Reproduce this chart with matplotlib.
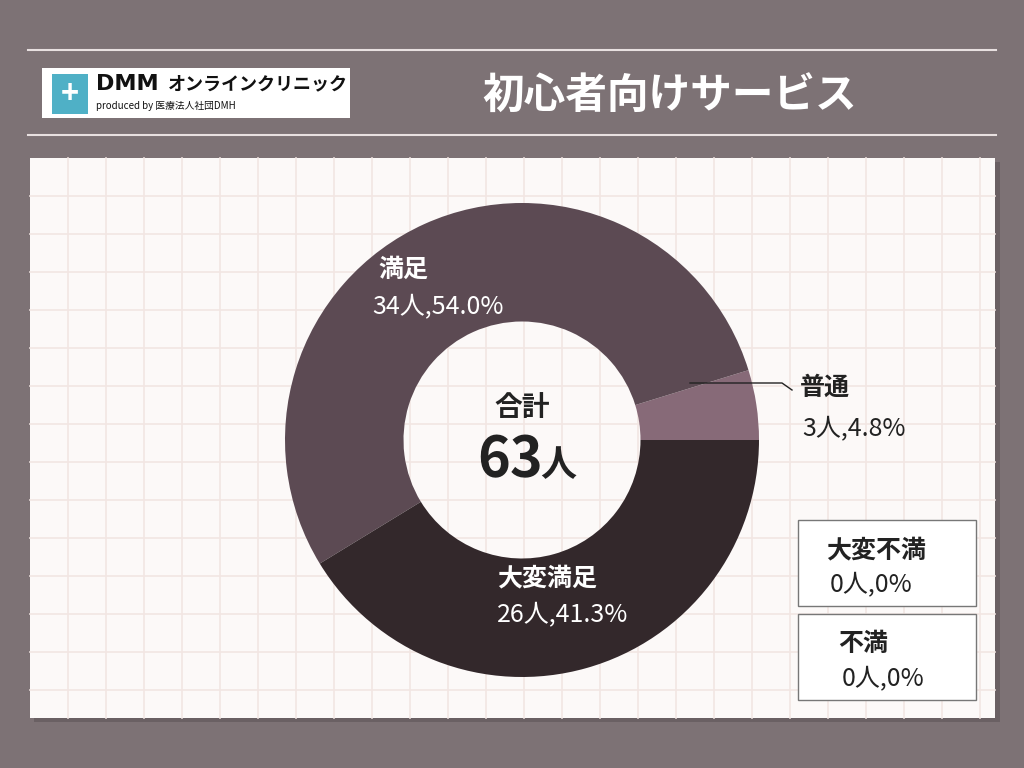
import matplotlib
matplotlib.use('Agg')
import matplotlib.pyplot as plt
from matplotlib.patches import Rectangle

plt.rcParams['font.family'] = 'Noto Sans CJK JP'

TITLE = "初心者向けサービス"
CATEGORIES = ["普通", "満足", "大変満足"]
COUNTS = [3, 34, 26]
PERCENTS = ["4.8%", "54.0%", "41.3%"]
ZERO_CATS = ["大変不満", "不満"]
TOTAL = 63

BG = "#7d7275"
PANEL = "#fcf9f8"
GRID = "#f2e6e3"
COLORS = ["#876a78", "#5c4a53", "#33282b"]

fig = plt.figure(figsize=(10.24, 7.68), dpi=100, facecolor=BG)
bg = fig.add_axes([0, 0, 1, 1])
bg.set_xlim(0, 1024)
bg.set_ylim(768, 0)
bg.axis('off')

# header lines
for y in (50, 135):
    bg.plot([28, 996], [y, y], color="#e8e0e0", lw=1.5)

# logo box
bg.add_patch(Rectangle((42, 68), 308, 50, facecolor="white", edgecolor="none"))
bg.add_patch(Rectangle((52, 74), 36, 40, facecolor="#4fb0c6", edgecolor="none"))
bg.text(70, 94, "+", color="white", fontsize=22, ha="center", va="center", fontweight="bold")
bg.text(96, 84, "DMM", color="#111", fontsize=16, fontweight="bold", va="center", family="DejaVu Sans")
bg.text(168, 84, "オンラインクリニック", color="#111", fontsize=13, fontweight="bold", va="center")
bg.text(96, 106, "produced by 医療法人社団DMH", color="#111", fontsize=7, va="center")

bg.text(670, 97, TITLE, color="white", fontsize=30, fontweight="bold", ha="center", va="center")

# panel with shadow and grid
bg.add_patch(Rectangle((34, 162), 966, 560, facecolor="#6a6063", edgecolor="none"))
bg.add_patch(Rectangle((30, 158), 965, 560, facecolor=PANEL, edgecolor="none"))
x = 30 + 38
while x < 995:
    bg.plot([x, x], [158, 718], color=GRID, lw=1.2)
    x += 38
y = 158 + 38
while y < 718:
    bg.plot([30, 995], [y, y], color=GRID, lw=1.2)
    y += 38

# donut
cx, cy, r = 522, 440, 237
pax = fig.add_axes([(cx - r) / 1024, (768 - cy - r) / 768, 2 * r / 1024, 2 * r / 768])
pax.pie(COUNTS, colors=COLORS, startangle=0, counterclock=True,
        wedgeprops=dict(width=0.5, edgecolor="none"))
pax.set_xlim(-1, 1)
pax.set_ylim(-1, 1)
pax.set_aspect('auto')
pax.axis('off')

# overlay for labels, on top of the donut
top = fig.add_axes([0, 0, 1, 1])
top.set_xlim(0, 1024)
top.set_ylim(768, 0)
top.axis('off')
top.patch.set_alpha(0)

top.text(378, 270, CATEGORIES[1], color="white", fontsize=18, fontweight="bold", va="center")
top.text(372, 306, f"{COUNTS[1]}人,{PERCENTS[1]}", color="white", fontsize=18, va="center")
top.text(497, 578, CATEGORIES[2], color="white", fontsize=18, fontweight="bold", va="center")
top.text(497, 614, f"{COUNTS[2]}人,{PERCENTS[2]}", color="white", fontsize=18, va="center")

top.plot([690, 782, 792], [383, 383, 390], color="#222", lw=1)
top.text(800, 388, CATEGORIES[0], color="#222", fontsize=18, fontweight="bold", va="center")
top.text(802, 428, f"{COUNTS[0]}人,{PERCENTS[0]}", color="#222", fontsize=18, va="center")

top.text(522, 408, "合計", color="#222", fontsize=20, fontweight="bold", ha="center", va="center")
top.text(510, 460, f"{TOTAL}", color="#222", fontsize=40, fontweight="bold", ha="center", va="center")
top.text(558, 466, "人", color="#222", fontsize=26, fontweight="bold", ha="center", va="center")

for i, cat in enumerate(ZERO_CATS):
    t = 520 + i * 94
    top.add_patch(Rectangle((798, t), 178, 86, facecolor="white", edgecolor="#777", lw=1))
    top.text(826 + i * 12, t + 30, cat, color="#222", fontsize=18, fontweight="bold", va="center")
    top.text(830 + i * 12, t + 64, "0人,0%", color="#222", fontsize=18, va="center")

fig.savefig("out.png", dpi=100, facecolor=BG)
